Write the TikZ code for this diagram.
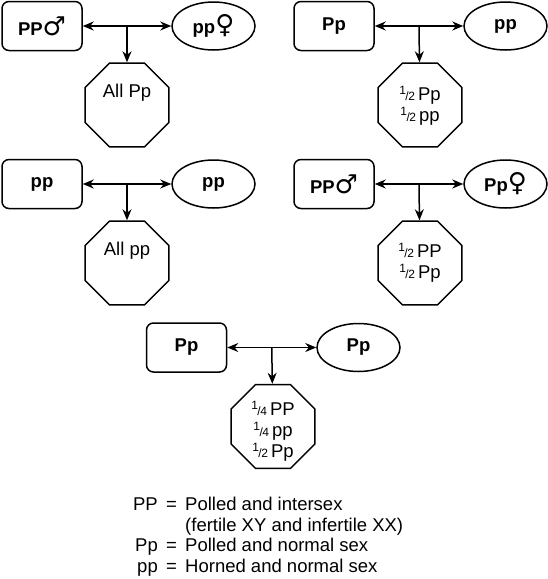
\documentclass[tikz,border=0pt]{standalone}
\usepackage{fontspec}
\setmainfont{Liberation Sans}
\newfontfamily\symfont{DejaVu Sans ExtraLight}
\usetikzlibrary{arrows.meta,shapes.geometric,calc}

\newcommand{\frc}[2]{{\fontsize{12}{12}\selectfont\raisebox{0.5em}{#1}\kern-0.5pt/\kern-0.5pt#2}\,}
\newcommand{\boy}{{\symfont\fontsize{26}{26}\selectfont\char"2642}}
\newcommand{\girl}{{\symfont\fontsize{26}{26}\selectfont\char"2640}}

\tikzset{
  txt/.style={font=\fontsize{18.5}{21}\selectfont},
  parent/.style={draw,line width=1.5pt,rounded corners=7pt,minimum width=80pt,
    minimum height=49pt,inner sep=0pt,font=\fontsize{18.5}{21}\selectfont\bfseries},
  dam/.style={draw,line width=1.5pt,ellipse,minimum width=83pt,
    minimum height=48pt,inner sep=0pt,font=\fontsize{18.5}{21}\selectfont\bfseries},
  octo/.style={draw,line width=1.5pt,regular polygon,regular polygon sides=8,
    minimum size=90.9pt,inner sep=0pt},
  octtext/.style={txt,align=center,inner sep=0pt},
  cross/.style={line width=1.5pt,{Stealth[length=11pt,width=9pt]}-{Stealth[length=11pt,width=9pt]}},
  kid/.style={line width=1.5pt,-{Stealth[length=11pt,width=9pt]}},
}

\begin{document}
\begin{tikzpicture}[x=1pt,y=-1pt]
 \useasboundingbox (0,0) rectangle (547,579);
 % top row
 \node[parent] (m1) at (42,26) {PP\boy};
 \node[dam] (f1) at (213.5,26) {pp\girl};
 \node[octo] (o1) at (127,105) {};
 \node[octtext] (t1) at (127,93) {All Pp};
 \draw[cross] (m1) -- (f1);
 \draw[kid] ($(m1.east)!.5!(f1.west)$) -- (o1);

 \node[parent] (m2) at (334,26) {Pp};
 \node[dam] (f2) at (505.5,26) {pp};
 \node[octo] (o2) at (420,105) {};
 \node[octtext] (t2) at (420,105.5) {\frc12Pp\\\frc12pp};
 \draw[cross] (m2) -- (f2);
 \draw[kid] ($(m2.east)!.5!(f2.west)$) -- (o2);

 % middle row
 \node[parent] (m3) at (42,184) {pp};
 \node[dam] (f3) at (213.5,184) {pp};
 \node[octo] (o3) at (127,263) {};
 \node[octtext] (t3) at (127,251) {All pp};
 \draw[cross] (m3) -- (f3);
 \draw[kid] ($(m3.east)!.5!(f3.west)$) -- (o3);

 \node[parent] (m4) at (334,184) {PP\boy};
 \node[dam] (f4) at (505.5,184) {Pp\girl};
 \node[octo] (o4) at (420,263) {};
 \node[octtext] (t4) at (420,263) {\frc12PP\\\frc12Pp};
 \draw[cross] (m4) -- (f4);
 \draw[kid] ($(m4.east)!.5!(f4.west)$) -- (o4);

 % bottom
 \node[parent] (m5) at (186.5,347.5) {Pp};
 \node[dam] (f5) at (358.5,347.5) {Pp};
 \node[octo] (o5) at (273,426.5) {};
 \node[octtext] (t5) at (273,431) {\frc14PP\\\frc14pp\\\frc12Pp};
 \draw[cross] (m5) -- (f5);
 \draw[kid] ($(m5.east)!.5!(f5.west)$) -- (o5);

 % key
 \foreach \g/\y/\d in {PP/510/Polled and intersex,Pp/551/Polled and normal sex,
   pp/572/Horned and normal sex}
   {\node[txt,anchor=base east,inner sep=0pt] (k\g) at (158,\y) {\g};
    \node[txt,anchor=base,inner sep=0pt] (q\g) at (171.5,\y) {=};
    \node[txt,anchor=base west,inner sep=0pt] (d\g) at (185,\y) {\d};}
 \node[txt,anchor=base west,inner sep=0pt] (dXX) at (185,531) {(fertile XY and infertile XX)};
\end{tikzpicture}
\end{document}
